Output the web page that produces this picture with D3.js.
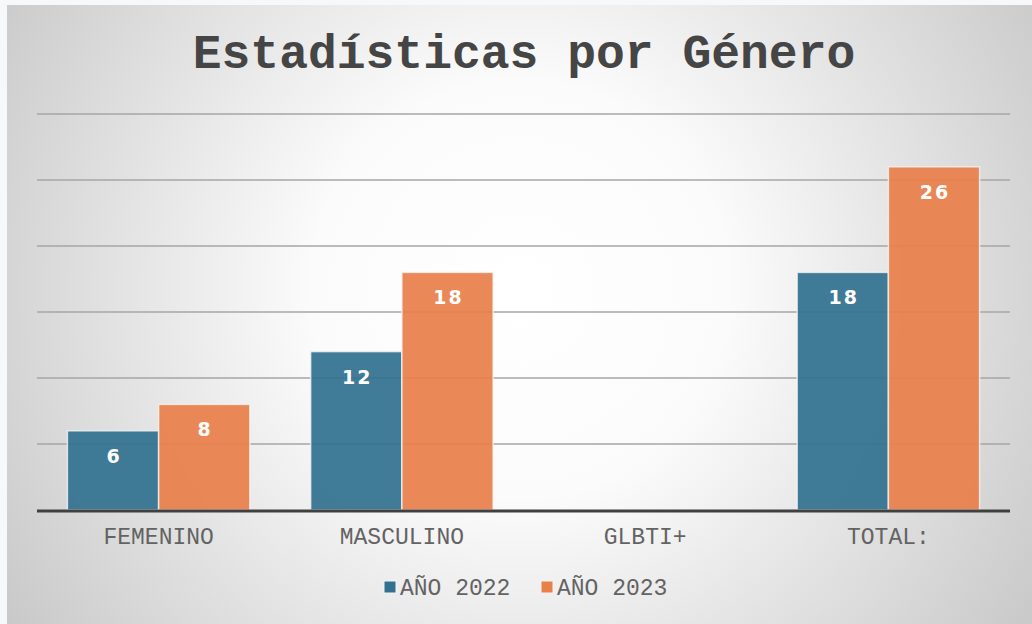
<!DOCTYPE html>
<html>
<head>
<meta charset="utf-8">
<script src="https://cdn.jsdelivr.net/npm/d3@7"></script>
<style>
  html, body { margin: 0; padding: 0; background: #f7f8fa; }
  svg { display: block; }
</style>
</head>
<body>
<div id="chart"></div>
<script>
const categories = ['FEMENINO', 'MASCULINO', 'GLBTI+', 'TOTAL:'];
const seriesNames = ['AÑO 2022', 'AÑO 2023'];
const values2022 = [6, 12, null, 18];
const values2023 = [8, 18, null, 26];
const yTicks = [0, 5, 10, 15, 20, 25, 30];

let width = 1032,
  height = 624;
let colors = ['#31718f', '#e8804a'];
let monoFont = "'Courier New', 'Nimbus Mono PS', 'Nimbus Mono L', FreeMono, Courier, 'Liberation Mono', monospace";

let svg = d3.select('#chart').append('svg')
  .attr('width', width)
  .attr('height', height);

// radial background
let defs = svg.append('defs');
let grad = defs.append('radialGradient')
  .attr('id', 'bg')
  .attr('gradientUnits', 'userSpaceOnUse')
  .attr('cx', 520).attr('cy', 290).attr('r', 650);
grad.append('stop').attr('offset', '0%').attr('stop-color', '#ffffff');
grad.append('stop').attr('offset', '32%').attr('stop-color', '#fbfbfb');
grad.append('stop').attr('offset', '100%').attr('stop-color', '#c4c4c4');

svg.append('rect')
  .attr('x', 7).attr('y', 5)
  .attr('width', width - 7).attr('height', height - 5)
  .attr('fill', 'url(#bg)');

let margin = { left: 37, right: 22, top: 114, bottom: 114 };
let plotBottom = 510;

let x0 = d3.scaleBand()
  .domain(categories)
  .range([margin.left, width - margin.right])
  .paddingInner(0.25)
  .paddingOuter(0.125);

let x1 = d3.scaleBand()
  .domain(seriesNames)
  .range([0, x0.bandwidth()]);

let y = d3.scaleLinear()
  .domain([0, 30])
  .range([plotBottom, margin.top]);

// gridlines
svg.append('g')
  .selectAll('line')
  .data(yTicks.filter(d => d > 0))
  .enter().append('line')
  .attr('x1', margin.left)
  .attr('x2', width - margin.right)
  .attr('y1', d => y(d))
  .attr('y2', d => y(d))
  .attr('stroke', '#a6a6a6')
  .attr('stroke-width', 1.3);

let rows = categories.map((c, i) => ({ cat: c, vals: [values2022[i], values2023[i]] }));

let groups = svg.append('g')
  .selectAll('g')
  .data(rows)
  .enter().append('g')
  .attr('transform', d => 'translate(' + x0(d.cat) + ',0)');

groups.selectAll('rect')
  .data(d => d.vals.map((v, j) => ({ v: v, s: seriesNames[j], j: j })).filter(e => e.v != null))
  .enter().append('rect')
  .attr('x', d => x1(d.s))
  .attr('y', d => y(d.v))
  .attr('width', x1.bandwidth())
  .attr('height', d => y(0) - y(d.v))
  .attr('fill', d => colors[d.j])
  .attr('fill-opacity', 0.93)
  .attr('stroke', '#f4f4f4')
  .attr('stroke-opacity', 0.8)
  .attr('stroke-width', 1.5);

groups.selectAll('text')
  .data(d => d.vals.map((v, j) => ({ v: v, s: seriesNames[j] })).filter(e => e.v != null))
  .enter().append('text')
  .attr('x', d => x1(d.s) + x1.bandwidth() / 2 + 1)
  .attr('y', d => y(d.v) + 32)
  .attr('text-anchor', 'middle')
  .attr('font-family', 'DejaVu Sans, Verdana, sans-serif')
  .attr('font-weight', 'bold')
  .attr('font-size', 19)
  .attr('letter-spacing', 2)
  .attr('fill', '#ffffff')
  .text(d => d.v);

// baseline
svg.append('line')
  .attr('x1', margin.left)
  .attr('x2', width - margin.right)
  .attr('y1', y(0) + 1)
  .attr('y2', y(0) + 1)
  .attr('stroke', '#404040')
  .attr('stroke-width', 3);

// category axis
let xAxis = d3.axisBottom(x0).tickSize(0).tickPadding(16);
let ax = svg.append('g')
  .attr('transform', 'translate(0,' + (plotBottom + 2) + ')')
  .call(xAxis);
ax.select('.domain').remove();
ax.selectAll('text')
  .attr('font-family', monoFont)
  .attr('font-size', 23)
  .attr('fill', '#636363')
  .attr('dy', '0.71em');

// title
svg.append('text')
  .attr('x', 524)
  .attr('y', 68)
  .attr('text-anchor', 'middle')
  .attr('font-family', monoFont)
  .attr('font-weight', 'bold')
  .attr('font-size', 48)
  .attr('fill', '#454545')
  .text('Estadísticas por Género');

// legend
let legendX = [384, 541];
let legend = svg.append('g')
  .selectAll('g')
  .data(seriesNames)
  .enter().append('g')
  .attr('transform', (d, i) => 'translate(' + legendX[i] + ',581)');
legend.append('rect')
  .attr('width', 12).attr('height', 12)
  .attr('fill', (d, i) => colors[i])
  .attr('stroke', '#f4f4f4')
  .attr('stroke-width', 1);
legend.append('text')
  .attr('x', 16)
  .attr('y', 14)
  .attr('font-family', monoFont)
  .attr('font-size', 23)
  .attr('fill', '#636363')
  .text(d => d);
</script>
</body>
</html>
